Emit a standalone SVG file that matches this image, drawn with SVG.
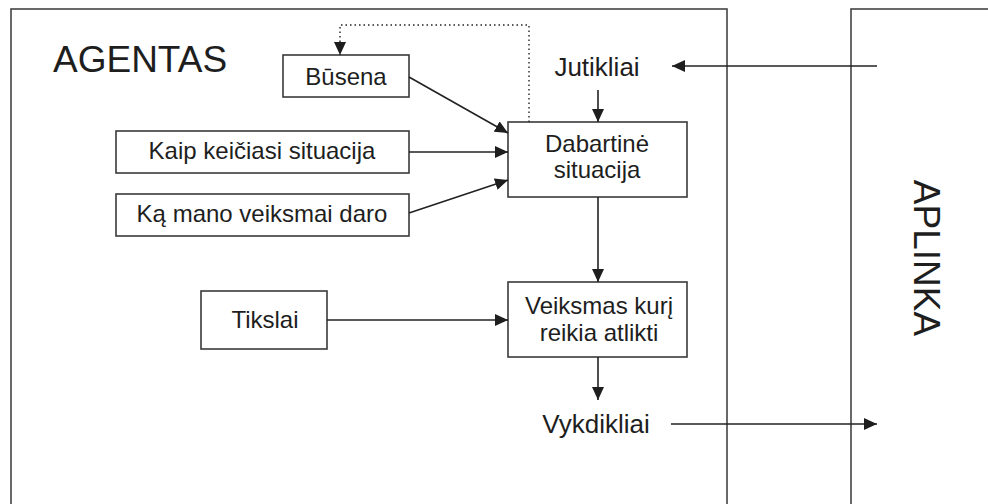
<svg xmlns="http://www.w3.org/2000/svg" width="988" height="504" viewBox="0 0 988 504">
  <style>
    .frame { fill: none; stroke: #444; stroke-width: 1.6; }
    .box { fill: #fff; stroke: #3a3a3a; stroke-width: 1.6; }
    .lbl { font-family: "Liberation Sans", Arial, sans-serif; font-size: 24px; fill: #1e1e1e; text-anchor: middle; }
    .io { font-size: 26px; }
    .title { font-family: "Liberation Sans", Arial, sans-serif; font-size: 37px; fill: #1e1e1e; }
    .edge { fill: none; stroke: #222; stroke-width: 1.6; marker-end: url(#arrow); }
    .dotted { stroke-dasharray: 1.5 3; stroke-width: 1.4; }
  </style>
  <defs>
    <marker id="arrow" markerUnits="userSpaceOnUse" markerWidth="14" markerHeight="12" refX="13" refY="6" orient="auto">
      <path d="M0,0 L13,6 L0,12 Z" fill="#1e1e1e"/>
    </marker>
  </defs>
  <rect width="988" height="504" fill="#fff"/>

  <!-- agent and environment frames -->
  <g id="agentas">
    <rect class="frame" x="11" y="9" width="716" height="520"/>
    <text class="title" x="53" y="72">AGENTAS</text>
  </g>
  <g id="aplinka">
    <rect class="frame" x="851" y="9" width="200" height="520"/>
    <text class="title" transform="translate(914,258) rotate(90)" text-anchor="middle">APLINKA</text>
  </g>

  <!-- nodes -->
  <g id="busena">
    <rect class="box" x="283" y="55" width="126" height="42"/>
    <text class="lbl" x="346" y="85">Būsena</text>
  </g>
  <g id="kaip">
    <rect class="box" x="116" y="131" width="293" height="42"/>
    <text class="lbl" x="262" y="159">Kaip keičiasi situacija</text>
  </g>
  <g id="ka">
    <rect class="box" x="116" y="194" width="293" height="42"/>
    <text class="lbl" x="262" y="222">Ką mano veiksmai daro</text>
  </g>
  <g id="dabartine">
    <rect class="box" x="508" y="122" width="179" height="75"/>
    <text class="lbl" x="597" y="152">Dabartinė</text>
    <text class="lbl" x="597" y="178">situacija</text>
  </g>
  <g id="tikslai">
    <rect class="box" x="201" y="291" width="126" height="58"/>
    <text class="lbl" x="265" y="328">Tikslai</text>
  </g>
  <g id="veiksmas">
    <rect class="box" x="508" y="282" width="179" height="75"/>
    <text class="lbl" x="599" y="314">Veiksmas kurį</text>
    <text class="lbl" x="599" y="341">reikia atlikti</text>
  </g>
  <g id="jutikliai">
    <text class="lbl io" x="597" y="76">Jutikliai</text>
  </g>
  <g id="vykdikliai">
    <text class="lbl io" x="596" y="433">Vykdikliai</text>
  </g>

  <!-- connectors -->
  <g id="connectors">
    <path class="edge dotted" d="M529,122 V25 H340 V55"/>
    <path class="edge" d="M409,77 L508,133"/>
    <path class="edge" d="M409,152 H508"/>
    <path class="edge" d="M409,213 L508,180"/>
    <path class="edge" d="M598,90 V122"/>
    <path class="edge" d="M598,197 V282"/>
    <path class="edge" d="M327,320 H508"/>
    <path class="edge" d="M598,357 V400"/>
    <path class="edge" d="M877,66 H672"/>
    <path class="edge" d="M671,424 H877"/>
  </g>
</svg>
